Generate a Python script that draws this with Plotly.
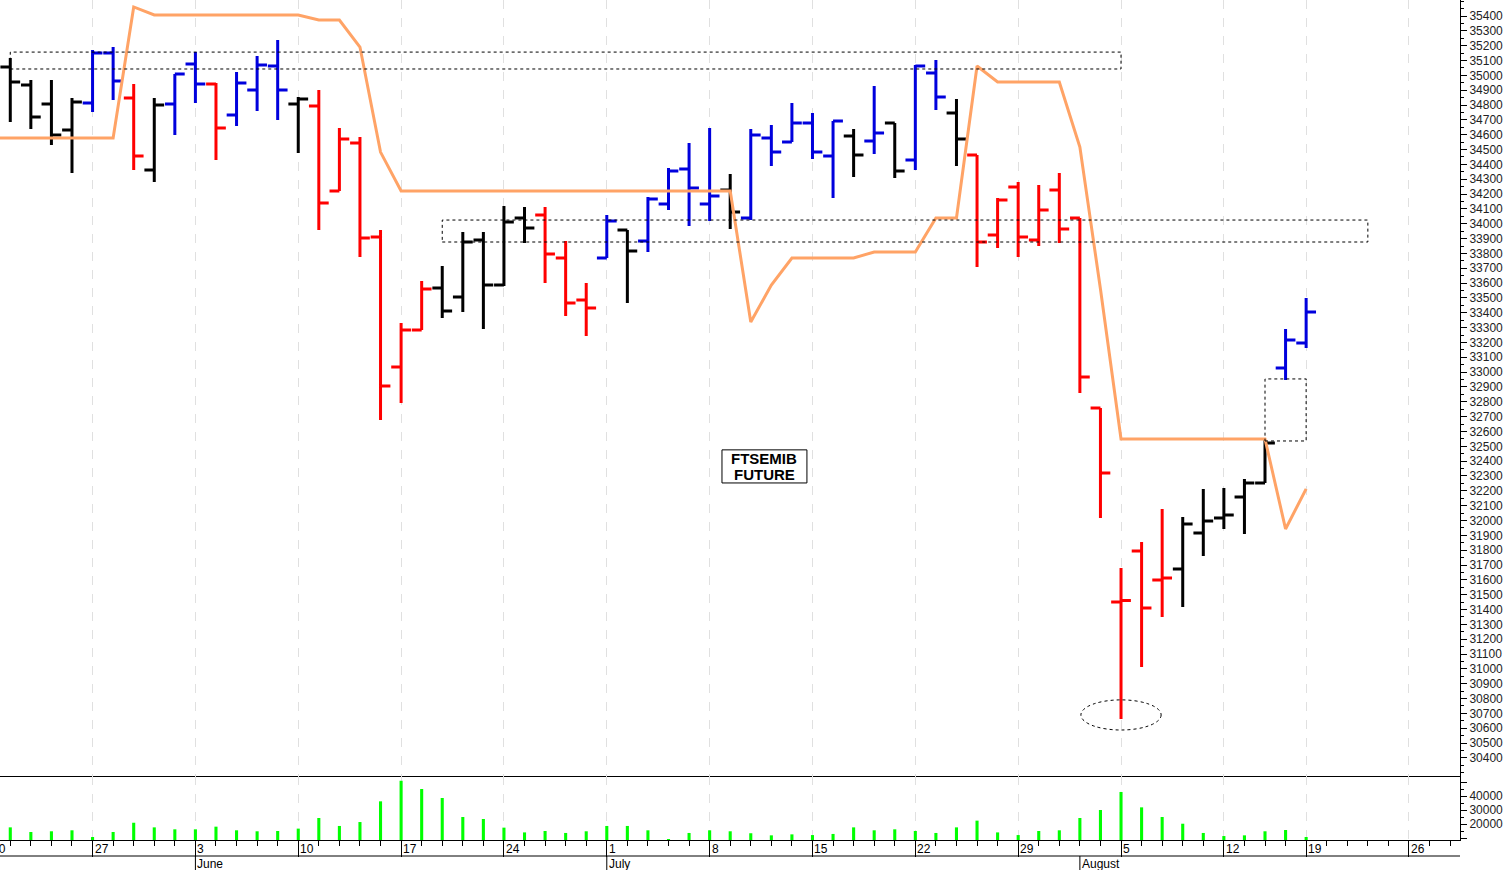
import plotly.graph_objects as go

# ---------------- data ----------------
dates = ["2024-05-20", "2024-05-21", "2024-05-22", "2024-05-23", "2024-05-24",
         "2024-05-27", "2024-05-28", "2024-05-29", "2024-05-30", "2024-05-31",
         "2024-06-03", "2024-06-04", "2024-06-05", "2024-06-06", "2024-06-07",
         "2024-06-10", "2024-06-11", "2024-06-12", "2024-06-13", "2024-06-14",
         "2024-06-17", "2024-06-18", "2024-06-19", "2024-06-20", "2024-06-21",
         "2024-06-24", "2024-06-25", "2024-06-26", "2024-06-27", "2024-06-28",
         "2024-07-01", "2024-07-02", "2024-07-03", "2024-07-04", "2024-07-05",
         "2024-07-08", "2024-07-09", "2024-07-10", "2024-07-11", "2024-07-12",
         "2024-07-15", "2024-07-16", "2024-07-17", "2024-07-18", "2024-07-19",
         "2024-07-22", "2024-07-23", "2024-07-24", "2024-07-25", "2024-07-26",
         "2024-07-29", "2024-07-30", "2024-07-31", "2024-08-01", "2024-08-02",
         "2024-08-05", "2024-08-06", "2024-08-07", "2024-08-08", "2024-08-09",
         "2024-08-12", "2024-08-13", "2024-08-14", "2024-08-16", "2024-08-19"]

opens = [35000, 35056, 34935, 34807, 34632, 34814, 35151, 34847, 34362, 34807,
         35077, 34942, 34733, 34901, 35063, 34807, 34793, 34221, 34544, 33911,
         33035, 33284, 33567, 33506, 33890, 33587, 34039, 34059, 33769, 33486,
         33769, 33958, 33884, 34133, 34369, 34133, 34227, 34039, 34578, 34551,
         34679, 34457, 34591, 34558, 34679, 34430, 35016, 34746, 34463, 33924,
         34248, 33890, 34227, 34039, 32758, 31451, 31795, 31599, 31673, 31916,
         32017, 32159, 32253, 33028, 33196]
highs = [35150, 35117, 34969, 34969, 34847, 35171, 35191, 34942, 34847, 35009,
         35157, 34948, 35023, 35130, 35238, 34854, 34901, 34645, 34585, 33958,
         33331, 33614, 33715, 33944, 33944, 34120, 34113, 34113, 33884, 33601,
         34059, 33958, 34180, 34376, 34544, 34645, 34335, 34638, 34665, 34814,
         34746, 34692, 34638, 34928, 34679, 35070, 35103, 34841, 34463, 34173,
         34281, 34261, 34342, 34039, 32758, 31680, 31855, 32078, 32024, 32212,
         32219, 32280, 32543, 33291, 33500]
lows = [34950, 34686, 34638, 34531, 34342, 34753, 34834, 34362, 34281, 34598,
        34814, 34430, 34659, 34760, 34699, 34477, 33958, 34221, 33776, 32677,
        32792, 33284, 33365, 33405, 33291, 33580, 33870, 33601, 33378, 33244,
        33769, 33466, 33810, 34093, 33985, 34019, 33965, 34025, 34389, 34551,
        34436, 34173, 34315, 34470, 34308, 34362, 34767, 34389, 33708, 33837,
        33776, 33850, 33870, 32859, 32017, 30662, 31013, 31350, 31417, 31761,
        31943, 31909, 32253, 32947, 33163]
closes = [35117, 34955, 34719, 34598, 34820, 35151, 34962, 34457, 34800, 35009,
          34942, 34645, 34948, 35070, 34901, 34841, 34140, 34571, 33904, 32907,
          33284, 33560, 33412, 33877, 33587, 34012, 33971, 33796, 33466, 33432,
          34019, 33816, 34167, 34355, 34241, 34187, 34079, 34598, 34484, 34679,
          34484, 34692, 34463, 34612, 34355, 35063, 34854, 34571, 33877, 34160,
          33911, 34093, 33965, 32967, 32320, 31460, 31411, 31613, 31977, 31997,
          32037, 32253, 32522, 33216, 33405]
bar_colors = ["k", "k", "k", "k", "k", "b", "b", "r", "k", "b",
              "b", "r", "b", "b", "b", "k", "r", "r", "r", "r",
              "r", "r", "k", "k", "k", "k", "k", "r", "r", "r",
              "b", "k", "b", "b", "b", "b", "k", "b", "b", "b",
              "b", "b", "k", "b", "k", "b", "b", "k", "r", "r",
              "r", "r", "r", "r", "r", "r", "r", "r", "k", "k",
              "k", "k", "k", "b", "b"]
trend = [34578, 34578, 34578, 34578, 34578, 34578, 34578, 35461, 35407, 35407,
         35407, 35407, 35407, 35407, 35407, 35407, 35373, 35373, 35191, 34483,
         34221, 34221, 34221, 34221, 34221, 34221, 34221, 34221, 34221, 34221,
         34221, 34221, 34221, 34221, 34221, 34221, 34221, 33338, 33587, 33769,
         33769, 33769, 33769, 33810, 33810, 33810, 34039, 34039, 35063, 34955,
         34955, 34955, 34955, 34517, 33560, 32549, 32549, 32549, 32549, 32549,
         32549, 32549, 32549, 31943, 32213]
volumes = [15000, 17600, 14300, 14800, 15500, 10700, 14300, 20900, 17600, 16200,
           16200, 18100, 15500, 14800, 15000, 16700, 24300, 18600, 21400, 36200,
           50900, 45000, 38600, 25000, 23600, 17400, 14000, 15000, 13600, 14800,
           18600, 18600, 15500, 9300, 13600, 15500, 14800, 13400, 11900, 12600,
           12100, 12900, 17600, 15500, 16200, 15000, 13600, 17600, 22400, 14000,
           12100, 15000, 15500, 24300, 30000, 42900, 31900, 25000, 20200, 13600,
           11400, 11900, 14800, 15700, 10700]

week_labels = ["20", "27", "3", "10", "17", "24", "1", "8", "15", "22", "29", "5", "12", "19", "26"]
week_dates = ["2024-05-20", "2024-05-27", "2024-06-03", "2024-06-10", "2024-06-17",
              "2024-06-24", "2024-07-01", "2024-07-08", "2024-07-15", "2024-07-22",
              "2024-07-29", "2024-08-05", "2024-08-12", "2024-08-19", "2024-08-26"]
month_labels = ["June", "July", "August"]
month_dates = ["2024-06-03", "2024-07-01", "2024-08-01"]
price_ticks = list(range(30400, 35401, 100))
vol_tickvals = [10000, 20000, 30000, 40000, 50000]
vol_ticktext = ["", "20000", "30000", "40000", ""]

title_lines = ["FTSEMIB", "FUTURE"]

# annotation zones (price units / dates)
zone_top = ("2024-05-21", "2024-08-05", 35043, 35157)
zone_mid = ("2024-06-19", "2024-08-22", 33877, 34025)
zone_gap = ("2024-08-14", "2024-08-19", 32536, 32954)
ellipse_low = ("2024-08-05", 30588, 30791)
title_box = ("2024-07-09", "2024-07-12", 32253, 32476)

# ---------------- helpers (trading-day index axis) ----------------
OFFSET = 1  # May 20 is index -1
future = ["2024-08-20", "2024-08-21", "2024-08-22", "2024-08-23", "2024-08-26",
          "2024-08-27", "2024-08-28"]
all_days = dates + future
idx = {d: i - OFFSET for i, d in enumerate(all_days)}
xs = [idx[d] for d in dates]
X_RANGE = [-0.5, 70.48]


def xpaper(d):
    return (idx[d] - X_RANGE[0]) / (X_RANGE[1] - X_RANGE[0])


PRICE_RANGE = [30278, 35508]
VOL_RANGE = [8570, 54300]
H_PLOT = 840.0
split = 64 / H_PLOT

fig = go.Figure()

colmap = {"r": "#ff0000", "b": "#0000dd", "k": "#000000"}
for code, col in colmap.items():
    sel = [i for i, c in enumerate(bar_colors) if c == code]
    fig.add_trace(go.Ohlc(
        x=[xs[i] for i in sel],
        open=[opens[i] for i in sel], high=[highs[i] for i in sel],
        low=[lows[i] for i in sel], close=[closes[i] for i in sel],
        increasing=dict(line=dict(color=col, width=3)),
        decreasing=dict(line=dict(color=col, width=3)),
        tickwidth=0.48, xaxis="x", yaxis="y", showlegend=False, hoverinfo="skip"))

fig.add_trace(go.Scatter(x=xs, y=trend, mode="lines",
                         line=dict(color="#ffa366", width=3),
                         xaxis="x", yaxis="y", showlegend=False, hoverinfo="skip"))

fig.add_trace(go.Bar(x=xs, y=volumes, width=0.15, marker=dict(color="#00ff00", line=dict(width=0)),
                     xaxis="x2", yaxis="y2", showlegend=False, hoverinfo="skip"))

mondays = [idx[d] for d in week_dates]

shapes = []
dash = "3px,3px"
for (d0, d1, y0, y1) in [zone_top, zone_mid, zone_gap]:
    shapes.append(dict(type="rect", xref="x", yref="y", x0=idx[d0], x1=idx[d1], y0=y0, y1=y1,
                       line=dict(color="black", width=1, dash=dash), fillcolor="rgba(0,0,0,0)"))
shapes.append(dict(type="circle", xref="x", yref="y", x0=idx[ellipse_low[0]] - 1.95,
                   x1=idx[ellipse_low[0]] + 1.95, y0=ellipse_low[1], y1=ellipse_low[2],
                   line=dict(color="black", width=1, dash=dash)))
# title box
tb_x0 = idx[title_box[0]] - 0.4
tb_x1 = idx[title_box[1]] + 0.73
shapes.append(dict(type="rect", xref="x", yref="y", x0=tb_x0, x1=tb_x1,
                   y0=title_box[2], y1=title_box[3],
                   line=dict(color="black", width=1), fillcolor="white"))
# line under the day labels
shapes.append(dict(type="line", xref="paper", yref="paper", x0=0, x1=1,
                   y0=-16 / H_PLOT, y1=-16 / H_PLOT, line=dict(color="black", width=1)))
for d in month_dates:
    shapes.append(dict(type="line", xref="paper", yref="paper", x0=xpaper(d), x1=xpaper(d),
                       y0=-16 / H_PLOT, y1=-32 / H_PLOT, line=dict(color="black", width=1)))

annotations = []
lab_font = dict(family="Liberation Sans, Arial", size=12, color="black")
for lab, d in zip(week_labels, week_dates):
    annotations.append(dict(text=lab, xref="paper", yref="paper", x=xpaper(d), y=-8.5 / H_PLOT,
                            xanchor="left", yanchor="middle", showarrow=False, font=lab_font))
for lab, d in zip(month_labels, month_dates):
    annotations.append(dict(text=lab, xref="paper", yref="paper", x=xpaper(d), y=-24.5 / H_PLOT,
                            xanchor="left", yanchor="middle", showarrow=False, font=lab_font))
tb_xc = (tb_x0 + tb_x1) / 2
tb_h = title_box[3] - title_box[2]
for k, line_txt in enumerate(title_lines):
    annotations.append(dict(text="<b>" + line_txt + "</b>", xref="x", yref="y",
                            x=tb_xc, y=title_box[3] - tb_h * (0.27 + 0.48 * k),
                            xanchor="center", yanchor="middle", showarrow=False,
                            font=dict(family="Liberation Sans, Arial", size=15, color="black")))

axis_font = dict(family="Liberation Sans, Arial", size=12, color="#222222")

fig.update_layout(
    width=1508, height=870,
    margin=dict(l=0, r=48, t=0, b=30),
    paper_bgcolor="white", plot_bgcolor="white",
    showlegend=False, hovermode=False,
    shapes=shapes, annotations=annotations,
    xaxis=dict(domain=[0, 1], anchor="y", range=X_RANGE, rangeslider=dict(visible=False),
               tickmode="array", tickvals=mondays, showticklabels=False, ticks="",
               showgrid=True, gridcolor="#e0e0e0", griddash="dash", gridwidth=1,
               showline=True, linecolor="black", linewidth=1, zeroline=False),
    xaxis2=dict(domain=[0, 1], anchor="y2", range=X_RANGE, matches="x",
                tickmode="array", tickvals=mondays, showticklabels=False,
                ticks="outside", ticklen=16, tickcolor="black", tickwidth=1,
                minor=dict(tickmode="linear", tick0=0, dtick=1, ticks="outside", ticklen=5,
                           tickcolor="black", tickwidth=1, showgrid=False),
                showgrid=True, gridcolor="#e0e0e0", griddash="dash", gridwidth=1,
                showline=True, linecolor="black", linewidth=1, zeroline=False),
    yaxis=dict(domain=[split, 1], anchor="x", side="right", range=PRICE_RANGE,
               tickmode="array", tickvals=price_ticks, tickformat="d", ticks="outside", ticklen=6,
               tickcolor="black", tickfont=axis_font,
               minor=dict(tickmode="linear", tick0=0, dtick=50, ticks="outside", ticklen=3,
                          tickcolor="black", showgrid=False),
               showgrid=False, showline=True, linecolor="black", linewidth=1, zeroline=False),
    yaxis2=dict(domain=[0, split], anchor="x2", side="right", range=VOL_RANGE,
                tickmode="array", tickvals=vol_tickvals, ticktext=vol_ticktext,
                ticks="outside", ticklen=6, tickcolor="black", tickfont=axis_font,
                minor=dict(tickmode="linear", tick0=0, dtick=5000, ticks="outside", ticklen=3,
                           tickcolor="black", showgrid=False),
                showgrid=False, showline=True, linecolor="black", linewidth=1, zeroline=False),
)

fig.write_html("out.html", config={"displayModeBar": False},
               post_script="document.body.style.margin='0px';")
